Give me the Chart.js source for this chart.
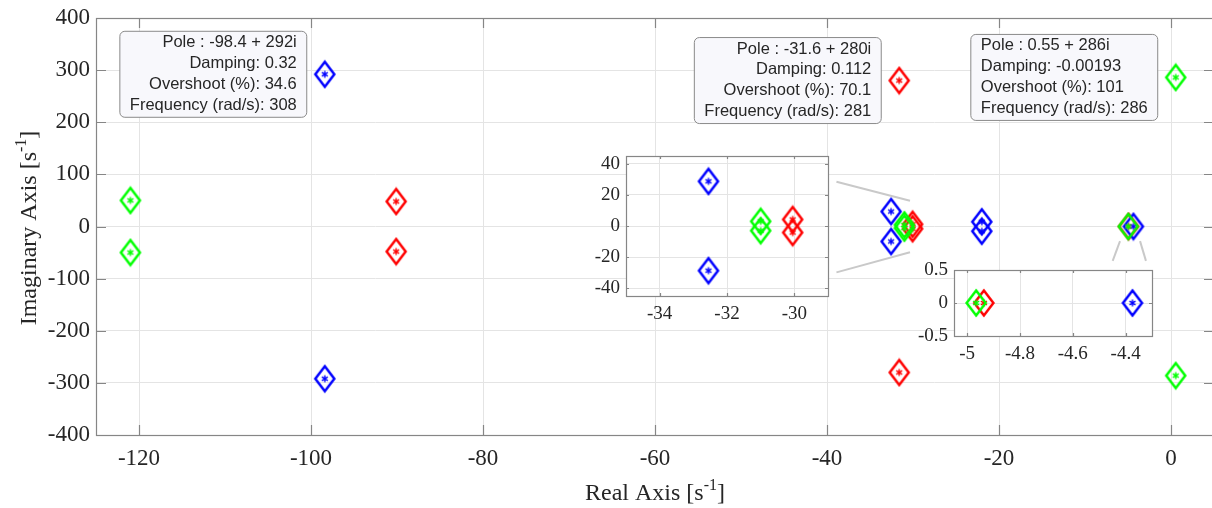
<!DOCTYPE html>
<html>
<head>
<meta charset="utf-8">
<script src="https://cdn.jsdelivr.net/npm/chart.js@4.4.1/dist/chart.umd.min.js"></script>
<style>
  html, body { margin: 0; padding: 0; background: #fff; overflow: hidden; }
  #wrap { position: relative; width: 1212px; height: 508px; overflow: hidden; }
  canvas { position: absolute; }
</style>
</head>
<body>
<div id="wrap">
  <canvas id="main" width="1216" height="508" style="left:0;top:0;width:1216px;height:508px"></canvas>
  <canvas id="inset1" width="256" height="178" style="left:580px;top:150px;width:256px;height:178px"></canvas>
  <canvas id="inset2" width="252" height="112" style="left:908px;top:256px;width:252px;height:112px"></canvas>
</div>
<script>
// pole locations (real / imaginary parts)
const blueRe = [-98.4, -98.4, -32.55, -32.55, -22, -22, -4.374];
const blueIm = [292, -292, 28.7, -28.7, 9, -9, 0];
const redRe = [-90.1, -90.1, -31.6, -31.6, -30.05, -30.05, -4.937];
const redIm = [48, -48, 280, -280, 4.2, -4.2, 0];
const greenRe = [-121, -121, 0.55, 0.55, -31.0, -31.0, -4.966];
const greenIm = [50, -50, 286, -286, 3, -3, 0];

// tick labels
const mainXTicks = [-120, -100, -80, -60, -40, -20, 0];
const mainYTicks = [-400, -300, -200, -100, 0, 100, 200, 300, 400];
const inset1XTicks = [-34, -32, -30];
const inset1YTicks = [-40, -20, 0, 20, 40];
const inset2XTicks = [-5, -4.8, -4.6, -4.4];
const inset2YTicks = [-0.5, 0, 0.5];

// zoom connector lines (data coords of the main axes)
const zoomLineAX = [-38.9, -30.35], zoomLineAY = [86, 49.5];
const zoomLineBX = [-38.9, -30.35], zoomLineBY = [-88, -49.5];
const zoomLineCX = [-6.78, -5.93], zoomLineCY = [-66, -28];
const zoomLineDX = [-2.91, -3.6], zoomLineDY = [-66, -28];

// datatips
const tipBlue = ["Pole : -98.4 + 292i", "Damping: 0.32", "Overshoot (%): 34.6", "Frequency (rad/s): 308"];
const tipRed = ["Pole : -31.6 + 280i", "Damping: 0.112", "Overshoot (%): 70.1", "Frequency (rad/s): 281"];
const tipGreen = ["Pole : 0.55 + 286i", "Damping: -0.00193", "Overshoot (%): 101", "Frequency (rad/s): 286"];

const SERIF = '"Liberation Serif", "Times New Roman", serif';
const SANS = '"Liberation Sans", Arial, sans-serif';

const pts = (xs, ys) => xs.map((x, i) => ({ x, y: ys[i] }));

// diamond with a small asterisk inside
function makeMarker(color) {
  const c = document.createElement("canvas");
  c.width = 24; c.height = 30;
  const g = c.getContext("2d");
  g.strokeStyle = color;
  g.lineWidth = 2.5;
  g.lineJoin = "miter";
  g.beginPath();
  g.moveTo(12, 2.5); g.lineTo(21.5, 15); g.lineTo(12, 27.5); g.lineTo(2.5, 15);
  g.closePath();
  g.stroke();
  g.lineWidth = 1.4;
  g.beginPath();
  g.moveTo(12, 11.5); g.lineTo(12, 18.5);
  g.moveTo(9, 13.2); g.lineTo(15, 16.8);
  g.moveTo(9, 16.8); g.lineTo(15, 13.2);
  g.stroke();
  return c;
}
const blueMark = makeMarker("#0000ff");
const redMark = makeMarker("#ff0000");
const greenMark = makeMarker("#00ff00");

function poleSets() {
  const base = { showLine: false, pointRadius: 10, pointHoverRadius: 10 };
  return [
    { ...base, label: "green", data: pts(greenRe, greenIm), pointStyle: greenMark, order: 1 },
    { ...base, label: "blue", data: pts(blueRe, blueIm), pointStyle: blueMark, order: 2 },
    { ...base, label: "red", data: pts(redRe, redIm), pointStyle: redMark, order: 3 },
  ];
}

function connector(xs, ys) {
  return { label: "zoom", data: pts(xs, ys), showLine: true, borderColor: "#c9c9c9",
           borderWidth: 2, pointRadius: 0, order: 9 };
}

// white plot area + MATLAB style box with inward ticks
const boxPlugin = {
  id: "matlabBox",
  beforeDraw(chart) {
    const a = chart.chartArea, ctx = chart.ctx;
    ctx.save();
    ctx.fillStyle = "#fff";
    ctx.fillRect(a.left, a.top, a.right - a.left, a.bottom - a.top);
    ctx.restore();
  },
  afterDraw(chart, args, opts) {
    const { ctx, chartArea: a, scales } = chart;
    const L = opts.tickLen || 8;
    ctx.save();
    ctx.strokeStyle = "#868686";
    ctx.lineWidth = 1.2;
    ctx.beginPath();
    scales.x.ticks.forEach(t => {
      const px = Math.round(scales.x.getPixelForValue(t.value)) + 0.5;
      ctx.moveTo(px, a.bottom); ctx.lineTo(px, a.bottom - L);
      ctx.moveTo(px, a.top); ctx.lineTo(px, a.top + L);
    });
    scales.y.ticks.forEach(t => {
      const py = Math.round(scales.y.getPixelForValue(t.value)) + 0.5;
      ctx.moveTo(a.left, py); ctx.lineTo(a.left + L, py);
      ctx.moveTo(a.right, py); ctx.lineTo(a.right - L, py);
    });
    ctx.stroke();
    ctx.strokeRect(Math.round(a.left) + 0.5, Math.round(a.top) + 0.5,
                   Math.round(a.right - a.left), Math.round(a.bottom - a.top));
    ctx.restore();
  }
};

function axisCfg(min, max, ticks, fontSize, pad, fit) {
  return {
    type: "linear", min, max,
    afterBuildTicks: s => { s.ticks = ticks.map(v => ({ value: v })); },
    afterFit: s => {
      fit(s);
      s.paddingLeft = s.paddingRight = s.paddingTop = s.paddingBottom = 0;
    },
    grid: { color: "#e4e4e4", lineWidth: 1, drawTicks: false },
    border: { display: false },
    ticks: { color: "#262626", padding: pad, font: { family: SERIF, size: fontSize },
             callback: v => String(v), maxRotation: 0, autoSkip: false }
  };
}

function baseOptions(xAx, yAx, padding, tickLen, extra) {
  return {
    responsive: false, animation: false, devicePixelRatio: 1,
    layout: { padding, autoPadding: false },
    events: [],
    scales: { x: xAx, y: yAx },
    plugins: { legend: { display: false }, tooltip: { enabled: false }, matlabBox: { tickLen }, ...extra }
  };
}

// superscript axis titles
function drawTitle(ctx, cx, cy, rot, parts) {
  ctx.save();
  ctx.translate(cx, cy);
  ctx.rotate(rot);
  let total = 0;
  parts.forEach(p => { ctx.font = p.size + "px " + SERIF; p.w = ctx.measureText(p.text).width; total += p.w; });
  let x = -total / 2;
  ctx.fillStyle = "#262626";
  ctx.textBaseline = "alphabetic";
  parts.forEach(p => {
    ctx.font = p.size + "px " + SERIF;
    ctx.fillText(p.text, x, p.rise);
    x += p.w;
  });
  ctx.restore();
}
const titlePlugin = {
  id: "axisTitles",
  afterDraw(chart) {
    const ctx = chart.ctx;
    drawTitle(ctx, 655, 500, 0, [
      { text: "Real Axis [s", size: 24, rise: 0 },
      { text: "-1", size: 16, rise: -10 },
      { text: "]", size: 24, rise: 0 }
    ]);
    drawTitle(ctx, 36, 228, -Math.PI / 2, [
      { text: "Imaginary Axis [s", size: 24, rise: 0 },
      { text: "-1", size: 16, rise: -10 },
      { text: "]", size: 24, rise: 0 }
    ]);
  }
};

// datatip boxes, placed to the left of the pole they describe
const tipPlugin = {
  id: "datatips",
  afterDraw(chart, args, opts) {
    const ctx = chart.ctx;
    opts.tips.forEach(tip => {
      const dsIndex = chart.data.datasets.findIndex(d => d.label === tip.series);
      const el = chart.getDatasetMeta(dsIndex).data[tip.index];
      ctx.save();
      ctx.font = "16.5px " + SANS;
      const w = Math.max(...tip.lines.map(l => ctx.measureText(l).width)) + 20;
      const h = 86;
      const right = el.x - 18, left = right - w, top = el.y - 43;
      const r = 5;
      ctx.beginPath();
      ctx.moveTo(left + r, top);
      ctx.arcTo(right, top, right, top + h, r);
      ctx.arcTo(right, top + h, left, top + h, r);
      ctx.arcTo(left, top + h, left, top, r);
      ctx.arcTo(left, top, right, top, r);
      ctx.closePath();
      ctx.fillStyle = "rgba(248,248,252,0.97)";
      ctx.fill();
      ctx.strokeStyle = "#8a8a8a";
      ctx.lineWidth = 1;
      ctx.stroke();
      ctx.fillStyle = "#262626";
      ctx.textBaseline = "middle";
      ctx.textAlign = tip.align;
      const tx = tip.align === "right" ? right - 10 : left + 10;
      tip.lines.forEach((l, i) => ctx.fillText(l, tx, top + 11.5 + i * 20.8));
      ctx.restore();
    });
  }
};

// main pole map
new Chart(document.getElementById("main"), {
  type: "scatter",
  data: {
    datasets: [
      ...poleSets(),
      connector(zoomLineAX, zoomLineAY),
      connector(zoomLineBX, zoomLineBY),
      connector(zoomLineCX, zoomLineCY),
      connector(zoomLineDX, zoomLineDY)
    ]
  },
  options: baseOptions(
    axisCfg(-125, 5, mainXTicks, 23, 10, s => { s.height = 73; }),
    axisCfg(-400, 400, mainYTicks, 23, 6, s => { s.width = 96; }),
    { top: 18, right: 2, left: 0, bottom: 0 }, 10,
    { datatips: { tips: [
      { series: "blue", index: 0, lines: tipBlue, align: "right" },
      { series: "red", index: 2, lines: tipRed, align: "right" },
      { series: "green", index: 2, lines: tipGreen, align: "left" }
    ] } }
  ),
  plugins: [boxPlugin, titlePlugin, tipPlugin]
});

// zoom inset around -31
new Chart(document.getElementById("inset1"), {
  type: "scatter",
  data: { datasets: poleSets() },
  options: baseOptions(
    axisCfg(-35, -29, inset1XTicks, 19, 7, s => { s.height = 32; }),
    axisCfg(-45, 45, inset1YTicks, 19, 6, s => { s.width = 46; }),
    { top: 6, right: 8, left: 0, bottom: 0 }, 3, {}
  ),
  plugins: [boxPlugin]
});

// zoom inset around -4.7
new Chart(document.getElementById("inset2"), {
  type: "scatter",
  data: { datasets: poleSets() },
  options: baseOptions(
    axisCfg(-5.05, -4.3, inset2XTicks, 19, 7, s => { s.height = 32; }),
    axisCfg(-0.5, 0.5, inset2YTicks, 19, 6, s => { s.width = 46; }),
    { top: 14, right: 8, left: 0, bottom: 0 }, 3, {}
  ),
  plugins: [boxPlugin]
});
</script>
</body>
</html>
